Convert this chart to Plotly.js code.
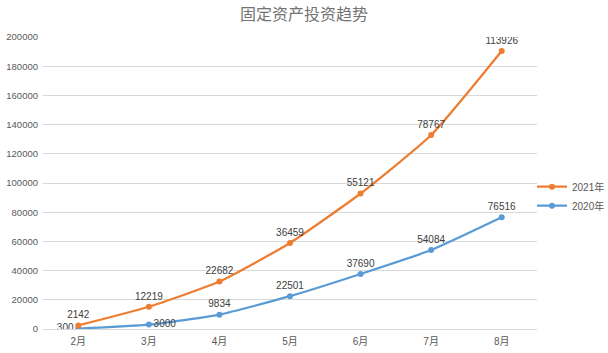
<!DOCTYPE html>
<html><head><meta charset="utf-8">
<script src="https://cdn.plot.ly/plotly-3.0.1.min.js"></script>
<style>html,body{margin:0;padding:0;background:#fff}#c{width:608px;height:353px}</style>
</head><body><div id="c"></div>
<script>
const months = ["2月","3月","4月","5月","6月","7月","8月"];
const v2020 = [300, 3000, 9834, 22501, 37690, 54084, 76516];
const v2021 = [2142, 12219, 22682, 36459, 55121, 78767, 113926];
const yTicks = [0,20000,40000,60000,80000,100000,120000,140000,160000,180000,200000];
const pos2020 = ["middle left","middle right","top center","top center","top center","top center","top center"];

const font = "Liberation Sans, Noto Sans CJK SC, sans-serif";
const traces = [
  {x: months, y: v2020, name: "2020年", type: "scatter", mode: "lines+markers+text",
   stackgroup: "s", fill: "none",
   line: {color: "#5B9BD5", width: 2.25, shape: "spline", smoothing: 0.5},
   marker: {color: "#5B9BD5", size: 6},
   text: v2020.map(String), textposition: pos2020,
   textfont: {size: 10, color: "#404040", family: font}, hoverinfo: "skip"},
  {x: months, y: v2021, name: "2021年", type: "scatter", mode: "lines+markers+text",
   stackgroup: "s", fill: "none",
   line: {color: "#ED7D31", width: 2.25, shape: "spline", smoothing: 0.5},
   marker: {color: "#ED7D31", size: 6},
   text: v2021.map(String), textposition: "top center",
   textfont: {size: 10, color: "#404040", family: font}, hoverinfo: "skip"}
];
const layout = {
  width: 608, height: 353,
  margin: {l: 43, r: 71, t: 37, b: 24, autoexpand: false},
  paper_bgcolor: "#fff", plot_bgcolor: "#fff",
  font: {family: font, color: "#595959", size: 10},
  title: {text: "固定资产投资趋势", x: 0.5, xanchor: "center", y: 0.975, yanchor: "top",
          font: {size: 16, color: "#737373", family: font}},
  showlegend: true,
  legend: {traceorder: "reversed", xref: "container", x: 532/608, xanchor: "left",
           y: 0.455, yanchor: "middle", tracegroupgap: 0,
           font: {size: 10, color: "#595959"}, bgcolor: "rgba(0,0,0,0)"},
  xaxis: {type: "category", range: [-0.5, 6.5], showgrid: false, zeroline: false,
          showline: true, linecolor: "#D9D9D9", linewidth: 1, ticks: "",
          ticklabelstandoff: 3, tickfont: {size: 10, color: "#595959"}},
  yaxis: {range: [0, 200000], tickvals: yTicks, ticktext: yTicks.map(String),
          showgrid: true, gridcolor: "#D9D9D9", gridwidth: 1, zeroline: false,
          showline: false, ticks: "", tickfont: {size: 9.5, color: "#595959"}, ticklabelstandoff: 4}
};
Plotly.newPlot("c", traces, layout, {displayModeBar: false, staticPlot: true});
</script></body></html>
